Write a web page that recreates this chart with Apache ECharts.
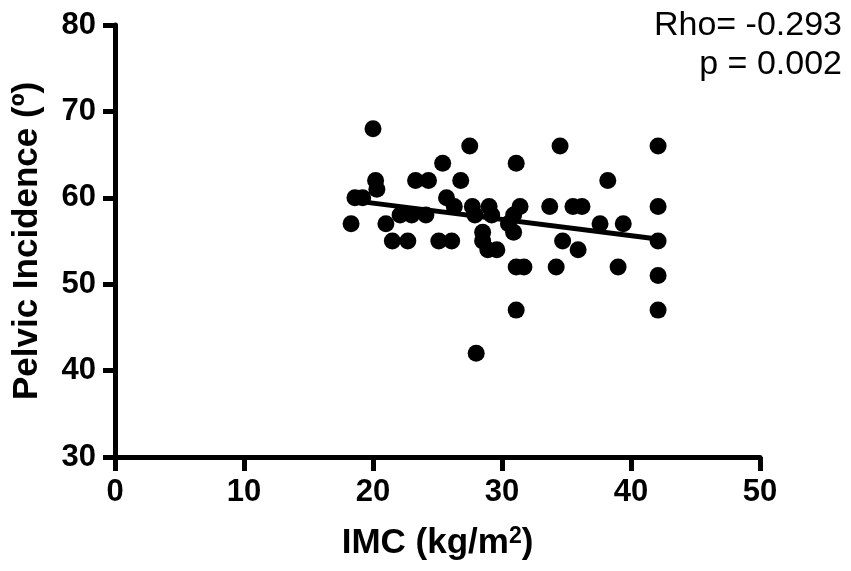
<!DOCTYPE html>
<html>
<head>
<meta charset="utf-8">
<script src="https://cdn.jsdelivr.net/npm/echarts@6/dist/echarts.min.js"></script>
<style>html,body{margin:0;padding:0;background:#fff;}#c{width:851px;height:571px;}</style>
</head>
<body>
<div id="c"></div>
<script>
var imc = [18.3,18.6,19.2,20.0,20.2,20.3,21.0,21.5,22.1,22.7,23.0,23.3,24.1,24.3,25.1,25.4,25.7,26.1,26.3,26.8,27.5,27.7,27.9,28.0,28.5,28.5,29.0,29.2,28.9,29.6,30.5,30.9,30.9,31.1,31.4,31.1,31.7,31.1,33.7,34.2,34.5,34.7,35.5,36.2,35.9,37.6,38.2,39.0,39.4,42.1,42.1,42.1,42.1,42.1];
var pelvic = [57,60,60,68,62,61,57,55,58,55,58,62,58,62,55,64,60,55,59,62,66,59,58,42,56,55,59,58,54,54,57,56,58,64,59,52,52,47,59,52,66,55,59,59,54,57,62,52,57,66,59,55,51,47];
var fitX = [18.3, 42.2];
var fitY = [59.7, 55.2];
var xTicks = [0,10,20,30,40,50];
var yTicks = [30,40,50,60,70,80];
var statsText = ['Rho= -0.293', 'p = 0.002'];

var pts = imc.map(function(v,i){return [v, pelvic[i]];});
var fit = fitX.map(function(v,i){return [v, fitY[i]];});
var FONT = '"Liberation Sans", Arial, sans-serif';

var chart = echarts.init(document.getElementById('c'), null, {renderer:'canvas'});
chart.setOption({
  animation:false,
  backgroundColor:'#fff',
  grid:{left:115, right:91, top:25, bottom:114},
  xAxis:{
    type:'value', min:xTicks[0], max:xTicks[xTicks.length-1], interval:10,
    name:'IMC (kg/m{s|2})', nameLocation:'middle', nameGap:68,
    nameTextStyle:{color:'#000', fontFamily:FONT, fontWeight:'bold', fontSize:35,
      rich:{s:{fontSize:23, fontWeight:'bold', fontFamily:FONT, color:'#000', verticalAlign:'top', padding:[0,0,14,0]}}},
    axisLine:{show:true, onZero:false, lineStyle:{color:'#000', width:5}},
    axisTick:{show:true, length:14, lineStyle:{color:'#000', width:5}},
    axisLabel:{color:'#000', fontFamily:FONT, fontWeight:'bold', fontSize:31, margin:20},
    splitLine:{show:false}
  },
  yAxis:{
    type:'value', min:yTicks[0], max:yTicks[yTicks.length-1], interval:10,
    name:'Pelvic Incidence (º)', nameLocation:'middle', nameGap:70, nameRotate:90,
    nameTextStyle:{color:'#000', fontFamily:FONT, fontWeight:'bold', fontSize:35},
    axisLine:{show:true, onZero:false, lineStyle:{color:'#000', width:5}},
    axisTick:{show:true, length:12, lineStyle:{color:'#000', width:5}},
    axisLabel:{color:'#000', fontFamily:FONT, fontWeight:'bold', fontSize:31, margin:19},
    splitLine:{show:false}
  },
  graphic:[
    {type:'text', right:9, top:9,
     style:{text:statsText[0], fill:'#000', font:'34px ' + FONT}},
    {type:'text', right:9, top:48,
     style:{text:statsText[1], fill:'#000', font:'34px ' + FONT}}
  ],
  series:[
    {type:'scatter', data:pts, symbol:'circle', symbolSize:17, itemStyle:{color:'#000', opacity:1}, z:2},
    {type:'line', data:fit, symbol:'none', lineStyle:{color:'#000', width:5}, z:3}
  ]
});
</script>
</body>
</html>
